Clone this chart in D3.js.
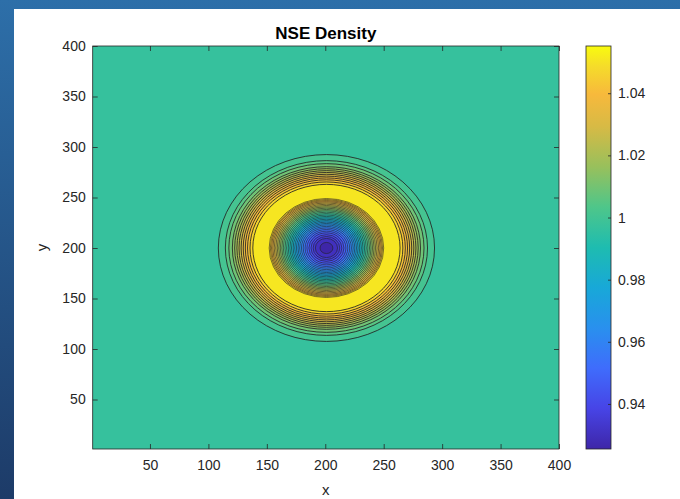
<!DOCTYPE html>
<html><head><meta charset="utf-8">
<script src="https://cdn.jsdelivr.net/npm/d3@7"></script>
<style>body{margin:0;padding:0;overflow:hidden;background:#fff}text{font-family:"Liberation Sans",Arial,Helvetica,sans-serif}</style>
</head><body>
<svg id="c" width="680" height="499"></svg>
<script>
// ---- data ----
const xTicks = [50,100,150,200,250,300,350,400];
const yTicks = [50,100,150,200,250,300,350,400];
const cbTicks = [0.94,0.96,0.98,1,1.02,1.04];
const cbTickLabels = ["0.94","0.96","0.98","1","1.02","1.04"];
const densityRange = [0.9255, 1.0552];
const center = [201, 200];
// contour levels (30 levels)
const contourLevels = [0.9300,0.9341,0.9383,0.9425,0.9467,0.9508,0.9550,0.9592,0.9633,0.9675,
  0.9717,0.9758,0.9800,0.9842,0.9884,0.9925,0.9967,1.0009,1.0050,1.0092,
  1.0134,1.0175,1.0217,1.0259,1.0301,1.0342,1.0384,1.0426,1.0467,1.0509];
// rising (outer) side: radius of contour for levels 18..30
const outerLevelIdx = [17,18,19,20,21,22,23,24,25,26,27,28,29];
const outerRadius   = [92.5,86.5,83.5,80.5,78.5,76.6,74.8,73.0,71.2,69.4,67.5,65.4,63.0];
// falling (inner) side: radius of contour for levels 30..1
const innerLevelIdx = [29,28,27,26,25,24,23,22,21,20,19,18,17,16,15,14,13,12,11,10,9,8,7,6,5,4,3,2,1,0];
const innerRadius   = [49.0,48.0,47.0,45.9,44.7,43.4,42.1,40.8,39.5,38.2,36.9,35.5,34.1,32.7,31.3,29.9,28.5,27.1,25.7,24.3,22.9,21.4,19.9,18.3,16.7,15.0,13.2,11.4,9.5,5.5];
// colormap stops (parula-like)
const cmapPos = [0,0.1,0.2,0.3,0.4,0.5,0.6,0.7,0.8,0.88,0.95,1];
const cmapCol = ['#3e26a8','#4744e6','#3f6cfc','#2990ee','#18a8d8','#1ebcb0','#4ec68a','#98c05c','#d7ba45','#f7b93c','#f5dc2a','#f9fb0e'];

// ---- drawing ----
const svg = d3.select('#c');
const defs = svg.append('defs');
const bgGrad = defs.append('linearGradient').attr('id','bgg').attr('x1',0).attr('y1',0).attr('x2',0).attr('y2',1);
bgGrad.append('stop').attr('offset','0%').attr('stop-color','#2d6fa9');
bgGrad.append('stop').attr('offset','100%').attr('stop-color','#1d3b68');
svg.append('rect').attr('width',680).attr('height',499).attr('fill','url(#bgg)');
svg.append('rect').attr('x',14).attr('y',9).attr('width',666).attr('height',490).attr('fill','#fff');

const L=92.7,R=559,T=46,B=449;
const x = d3.scaleLinear().domain([1,400]).range([L,R]);
const y = d3.scaleLinear().domain([1,400]).range([B,T]);
const tScale = d3.scaleLinear().domain(densityRange).range([0,1]);
const cmap = d3.scaleLinear().domain(cmapPos).range(cmapCol).interpolate(d3.interpolateRgb).clamp(true);
const col = v => cmap(tScale(v));

const plot = svg.append('g');
// background band [L17, L18]
plot.append('rect').attr('x',L).attr('y',T).attr('width',R-L).attr('height',B-T)
  .attr('fill', col(contourLevels[16]));

const rings = [];
outerLevelIdx.forEach((k,i)=>rings.push({r:outerRadius[i], fill: contourLevels[k]}));
innerLevelIdx.forEach((k,i)=>rings.push({r:innerRadius[i], fill: k>0?contourLevels[k-1]:densityRange[0]}));
rings.sort((a,b)=>b.r-a.r);
plot.selectAll('ellipse').data(rings).join('ellipse')
  .attr('cx', x(center[0])).attr('cy', y(center[1]))
  .attr('rx', d=>x(center[0]+d.r)-x(center[0]))
  .attr('ry', d=>y(center[1])-y(center[1]+d.r))
  .attr('fill', d=>col(d.fill))
  .attr('stroke','#222').attr('stroke-width',d=>d.r>60?0.85:0.6);

// axes box & ticks
const axCol='#262626';
const gx = svg.append('g').attr('transform',`translate(0,${B})`)
  .call(d3.axisBottom(x).tickValues(xTicks).tickSize(-5).tickPadding(11));
const gxt = svg.append('g').attr('transform',`translate(0,${T})`)
  .call(d3.axisTop(x).tickValues(xTicks).tickSize(-5).tickFormat(''));
const gy = svg.append('g').attr('transform',`translate(${L},0)`)
  .call(d3.axisLeft(y).tickValues(yTicks).tickSize(-5).tickPadding(7));
const gyr = svg.append('g').attr('transform',`translate(${R},0)`)
  .call(d3.axisRight(y).tickValues(yTicks).tickSize(-5).tickFormat(''));
[gx,gxt,gy,gyr].forEach(g=>{
  g.select('.domain').remove();
  g.selectAll('line').attr('stroke',axCol).attr('stroke-width',0.8);
  g.selectAll('text').attr('fill',axCol).style('font-size','14px').style('font-family','"Liberation Sans",Arial,sans-serif');
});
svg.append('rect').attr('x',L).attr('y',T).attr('width',R-L).attr('height',B-T)
  .attr('fill','none').attr('stroke',axCol).attr('stroke-width',0.8);

// labels
svg.append('text').attr('x',(L+R)/2).attr('y',39).attr('text-anchor','middle')
  .style('font-size','17px').style('font-weight','bold').attr('fill','#000').text('NSE Density');
svg.append('text').attr('x',(L+R)/2).attr('y',495).attr('text-anchor','middle')
  .style('font-size','15px').attr('fill',axCol).text('x');
svg.append('text').attr('transform',`translate(47,${(T+B)/2}) rotate(-90)`).attr('text-anchor','middle')
  .style('font-size','15px').attr('fill',axCol).text('y');

// colorbar
const cbL=586, cbW=25;
const cy = d3.scaleLinear().domain(densityRange).range([B,T]);
const cbGrad = defs.append('linearGradient').attr('id','cbg').attr('x1',0).attr('y1',1).attr('x2',0).attr('y2',0);
cmapPos.forEach((p,i)=>cbGrad.append('stop').attr('offset',(p*100)+'%').attr('stop-color',cmapCol[i]));
svg.append('rect').attr('x',cbL).attr('y',T).attr('width',cbW).attr('height',B-T)
  .attr('fill','url(#cbg)').attr('stroke',axCol).attr('stroke-width',0.8);
const gc = svg.append('g').attr('transform',`translate(${cbL+cbW},0)`)
  .call(d3.axisRight(cy).tickValues(cbTicks).tickSize(-3).tickPadding(7).tickFormat((d,i)=>cbTickLabels[i]));
gc.select('.domain').remove();
gc.selectAll('line').attr('stroke',axCol).attr('stroke-width',0.8);
gc.selectAll('text').attr('fill',axCol).style('font-size','14px').style('font-family','"Liberation Sans",Arial,sans-serif');
</script>
</body></html>
